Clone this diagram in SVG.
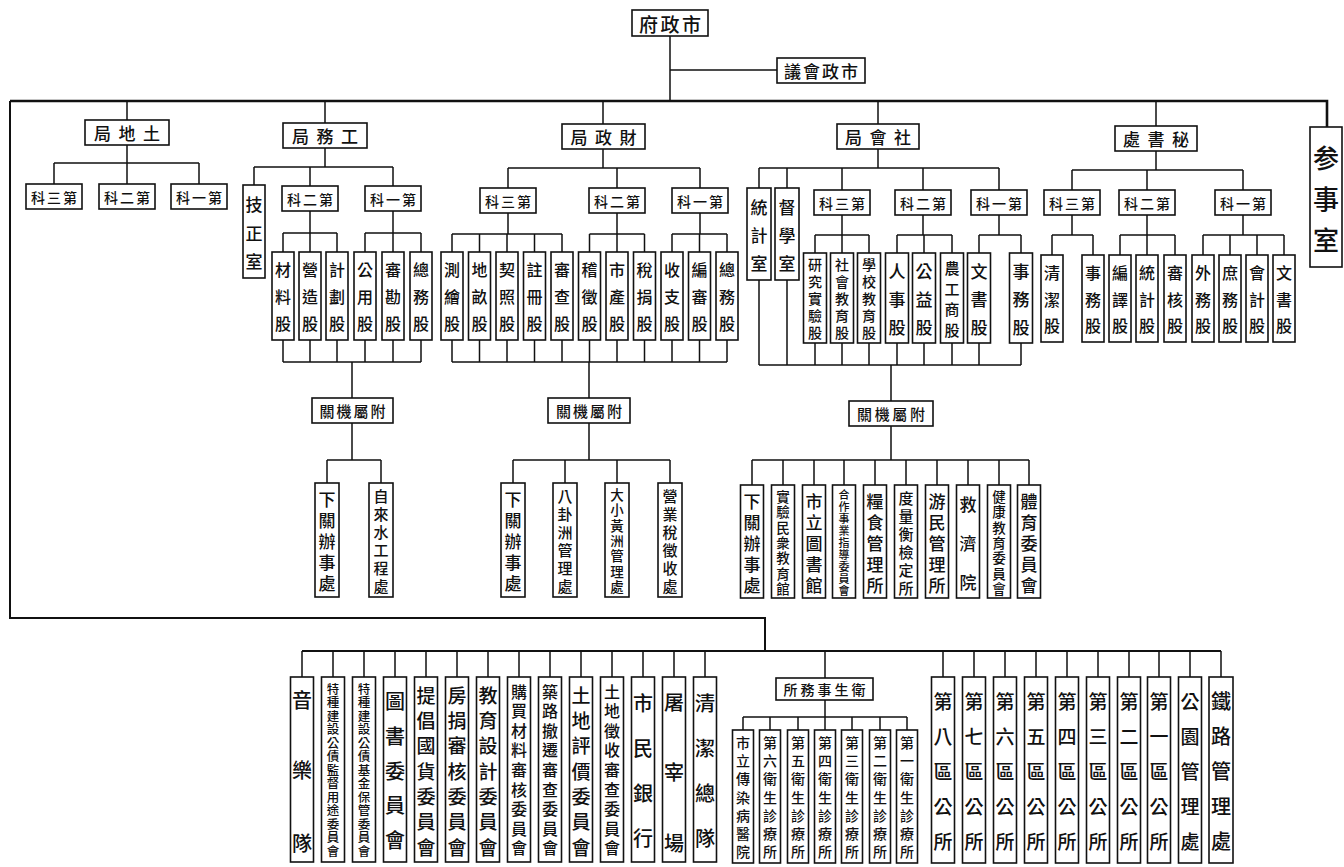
<svg xmlns="http://www.w3.org/2000/svg" width="1344" height="867" viewBox="0 0 1344 867">
<style>
.b{fill:#fff;stroke:#111;stroke-width:1.6}
.c{fill:none;stroke:#111;stroke-width:1.5}
.m{stroke-width:2.6}
.w2{stroke-width:2}
text{font-family:"Noto Sans CJK TC","Noto Sans CJK SC",sans-serif;fill:#111;text-anchor:middle;dominant-baseline:central;font-weight:500}
.f11{font-size:11px}.f12{font-size:12.5px}.f13{font-size:13.5px}.f14{font-size:14px}.f15{font-size:15px}.f16{font-size:16px}.f17{font-size:17px}.f19{font-size:19px}.f20{font-size:20px}.f26{font-size:26px}
</style>
<rect x="0" y="0" width="1344" height="867" fill="#fff"/>
<g id="connectors">
<path class="c m" d="M10 101 H1327 V127"/>
<path class="c w2" d="M10 101 V618 H765 V651 M302 651 H1221"/>
<path class="c" d="M670 36 V101 M670 70 H777 M127 101 V120 M325 101 V123 M603 101 V124 M878 101 V124 M1156 101 V126"/>
<path class="c" d="M127 145 V163 M54 163 H199 M54 163 V184 M127 163 V184 M199 163 V184"/>
<path class="c" d="M325 148 V167 M254 167 H393 M254 167 V185 M310 167 V186 M393 167 V186
M310 211 V233 M283 233 H337 M283 233 V252 M310 233 V252 M337 233 V252
M393 211 V233 M365 233 H421 M365 233 V252 M393 233 V252 M421 233 V252
M283 340 V362 M310 340 V362 M337 340 V362 M365 340 V362 M393 340 V362 M421 340 V362 M283 362 H421 M352 362 V398
M352 423 V460 M327 460 H381 M327 460 V483 M381 460 V483"/>
<path class="c" d="M603 149 V168 M508 168 H700 M508 168 V188 M617 168 V188 M700 168 V188
M508 213 V234 M452 234 H562 M452 234 V252 M479.5 234 V252 M507 234 V252 M534.5 234 V252 M562 234 V252
M617 213 V234 M589.5 234 H644.5 M589.5 234 V252 M617 234 V252 M644.5 234 V252
M700 213 V234 M672 234 H727 M672 234 V252 M699.5 234 V252 M727 234 V252
M452 340 V362 M479.5 340 V362 M507 340 V362 M534.5 340 V362 M562 340 V362 M589.5 340 V362 M617 340 V362 M644.5 340 V362 M672 340 V362 M699.5 340 V362 M727 340 V362 M452 362 H727 M589 362 V398
M589 423 V460 M513 460 H670 M513 460 V483 M565 460 V483 M617 460 V483 M670 460 V483"/>
<path class="c" d="M878 149 V168 M759 168 H999 M759 168 V188 M787 168 V188 M842 168 V190 M923 168 V190 M999 168 V190
M842 215 V235 M815 235 H869 M815 235 V253 M842 235 V253 M869 235 V253
M923 215 V235 M897 235 H952 M897 235 V253 M924 235 V253 M952 235 V253
M999 215 V235 M979 235 H1021 M979 235 V253 M1021 235 V253
M759 280 V365 M787 280 V365 M815 343 V365 M842 343 V365 M869 343 V365 M897 343 V365 M924 343 V365 M952 343 V365 M979 343 V365 M1021 343 V365 M759 365 H1021 M891 365 V401
M891 426 V460 M752 460 H1029 M752 460 V485 M783 460 V485 M814 460 V485 M844 460 V485 M875 460 V485 M906 460 V485 M937 460 V485 M968 460 V485 M999 460 V485 M1029 460 V485"/>
<path class="c" d="M1156 151 V170 M1072 170 H1243 M1072 170 V190 M1147 170 V190 M1243 170 V190
M1072 215 V235 M1052 235 H1093 M1052 235 V255 M1093 235 V255
M1147 215 V235 M1120 235 H1175 M1120 235 V255 M1147 235 V255 M1175 235 V255
M1243 215 V235 M1203 235 H1284 M1203 235 V255 M1230 235 V255 M1257 235 V255 M1284 235 V255"/>
<path class="c" d="M302 651 V677 M333 651 V677 M364 651 V677 M395 651 V677 M426 651 V677 M457 651 V677 M488 651 V677 M519 651 V677 M550 651 V677 M581 651 V677 M612 651 V677 M643 651 V677 M674 651 V677 M705 651 V677 M825 651 V678
M943 651 V677 M974 651 V677 M1005 651 V677 M1036 651 V677 M1067 651 V677 M1098 651 V677 M1129 651 V677 M1159 651 V677 M1190 651 V677 M1221 651 V677
M825 700 V717 M743 717 H907 M743 717 V730 M770 717 V730 M798 717 V730 M825 717 V730 M852 717 V730 M880 717 V730 M907 717 V730"/>
</g>

<g id="n-shizhengfu"><rect class="b" x="632" y="10" width="76" height="26"/><text class="f19" x="670" y="23" textLength="62" lengthAdjust="spacing">府政市</text></g>
<g id="n-council"><rect class="b" x="777" y="58" width="88" height="25"/><text class="f17" x="821" y="70.5" textLength="74" lengthAdjust="spacing">議會政市</text></g>

<g id="n-land"><rect class="b" x="85" y="120" width="84" height="25"/><text class="f17" x="127" y="132.5" textLength="66" lengthAdjust="spacing">局地土</text></g>
<g id="n-works"><rect class="b" x="283" y="123" width="84" height="25"/><text class="f17" x="325" y="135.5" textLength="66" lengthAdjust="spacing">局務工</text></g>
<g id="n-finance"><rect class="b" x="562" y="124" width="83" height="25"/><text class="f17" x="603.5" y="136.5" textLength="66" lengthAdjust="spacing">局政財</text></g>
<g id="n-social"><rect class="b" x="837" y="124" width="82" height="25"/><text class="f17" x="878" y="136.5" textLength="66" lengthAdjust="spacing">局會社</text></g>
<g id="n-secretariat"><rect class="b" x="1115" y="126" width="82" height="25"/><text class="f17" x="1156" y="138.5" textLength="66" lengthAdjust="spacing">處書秘</text></g>
<g id="n-counsellor"><rect class="b" x="1310" y="127" width="32" height="140"/><text class="f26" x="1326 1326 1326" y="156 197 238">参事室</text></g>

<g id="n-land-s3"><rect class="b" x="26" y="184" width="56" height="25"/><text class="f14" x="54" y="196.5" textLength="46" lengthAdjust="spacing">科三第</text></g>
<g id="n-land-s2"><rect class="b" x="99" y="184" width="56" height="25"/><text class="f14" x="127" y="196.5" textLength="46" lengthAdjust="spacing">科二第</text></g>
<g id="n-land-s1"><rect class="b" x="171" y="184" width="56" height="25"/><text class="f14" x="199" y="196.5" textLength="46" lengthAdjust="spacing">科一第</text></g>

<g id="n-works-jz"><rect class="b" x="243" y="185" width="22" height="93"/><text class="f17" x="254 254 254" y="203 232 260">技正室</text></g>
<g id="n-works-s2"><rect class="b" x="282" y="186" width="56" height="25"/><text class="f14" x="310" y="198.5" textLength="46" lengthAdjust="spacing">科二第</text></g>
<g id="n-works-s1"><rect class="b" x="365" y="186" width="56" height="25"/><text class="f14" x="393" y="198.5" textLength="46" lengthAdjust="spacing">科一第</text></g>

<g id="n-fin-s3"><rect class="b" x="480" y="188" width="56" height="25"/><text class="f14" x="508" y="200.5" textLength="46" lengthAdjust="spacing">科三第</text></g>
<g id="n-fin-s2"><rect class="b" x="589" y="188" width="56" height="25"/><text class="f14" x="617" y="200.5" textLength="46" lengthAdjust="spacing">科二第</text></g>
<g id="n-fin-s1"><rect class="b" x="672" y="188" width="56" height="25"/><text class="f14" x="700" y="200.5" textLength="46" lengthAdjust="spacing">科一第</text></g>

<g id="n-soc-tj"><rect class="b" x="747" y="188" width="24" height="92"/><text class="f17" x="759 759 759" y="206 234 262">統計室</text></g>
<g id="n-soc-dx"><rect class="b" x="775" y="188" width="24" height="92"/><text class="f17" x="787 787 787" y="206 234 262">督學室</text></g>
<g id="n-soc-s3"><rect class="b" x="814" y="190" width="56" height="25"/><text class="f14" x="842" y="202.5" textLength="46" lengthAdjust="spacing">科三第</text></g>
<g id="n-soc-s2"><rect class="b" x="895" y="190" width="56" height="25"/><text class="f14" x="923" y="202.5" textLength="46" lengthAdjust="spacing">科二第</text></g>
<g id="n-soc-s1"><rect class="b" x="971" y="190" width="56" height="25"/><text class="f14" x="999" y="202.5" textLength="46" lengthAdjust="spacing">科一第</text></g>

<g id="n-sec-s3"><rect class="b" x="1044" y="190" width="56" height="25"/><text class="f14" x="1072" y="202.5" textLength="46" lengthAdjust="spacing">科三第</text></g>
<g id="n-sec-s2"><rect class="b" x="1119" y="190" width="56" height="25"/><text class="f14" x="1147" y="202.5" textLength="46" lengthAdjust="spacing">科二第</text></g>
<g id="n-sec-s1"><rect class="b" x="1215" y="190" width="56" height="25"/><text class="f14" x="1243" y="202.5" textLength="46" lengthAdjust="spacing">科一第</text></g>

<!-- works sections -->
<g id="n-w-cl" transform="translate(283,252)"><rect class="b" x="-11" width="22" height="88"/><text class="f16" x="0 0 0" y="17 44 71">材料股</text></g>
<g id="n-w-yz" transform="translate(310,252)"><rect class="b" x="-11" width="22" height="88"/><text class="f16" x="0 0 0" y="17 44 71">營造股</text></g>
<g id="n-w-jh" transform="translate(337,252)"><rect class="b" x="-11" width="22" height="88"/><text class="f16" x="0 0 0" y="17 44 71">計劃股</text></g>
<g id="n-w-gy" transform="translate(365,252)"><rect class="b" x="-11" width="22" height="88"/><text class="f16" x="0 0 0" y="17 44 71">公用股</text></g>
<g id="n-w-sk" transform="translate(393,252)"><rect class="b" x="-11" width="22" height="88"/><text class="f16" x="0 0 0" y="17 44 71">審勘股</text></g>
<g id="n-w-zw" transform="translate(421,252)"><rect class="b" x="-11" width="22" height="88"/><text class="f16" x="0 0 0" y="17 44 71">總務股</text></g>

<!-- finance sections -->
<g id="n-f-ch" transform="translate(452,252)"><rect class="b" x="-11" width="22" height="88"/><text class="f16" x="0 0 0" y="17 44 71">測繪股</text></g>
<g id="n-f-dm" transform="translate(479.5,252)"><rect class="b" x="-11" width="22" height="88"/><text class="f16" x="0 0 0" y="17 44 71">地畝股</text></g>
<g id="n-f-qz" transform="translate(507,252)"><rect class="b" x="-11" width="22" height="88"/><text class="f16" x="0 0 0" y="17 44 71">契照股</text></g>
<g id="n-f-zc" transform="translate(534.5,252)"><rect class="b" x="-11" width="22" height="88"/><text class="f16" x="0 0 0" y="17 44 71">註冊股</text></g>
<g id="n-f-sc" transform="translate(562,252)"><rect class="b" x="-11" width="22" height="88"/><text class="f16" x="0 0 0" y="17 44 71">審查股</text></g>
<g id="n-f-jz" transform="translate(589.5,252)"><rect class="b" x="-11" width="22" height="88"/><text class="f16" x="0 0 0" y="17 44 71">稽徵股</text></g>
<g id="n-f-sp" transform="translate(617,252)"><rect class="b" x="-11" width="22" height="88"/><text class="f16" x="0 0 0" y="17 44 71">市產股</text></g>
<g id="n-f-sj" transform="translate(644.5,252)"><rect class="b" x="-11" width="22" height="88"/><text class="f16" x="0 0 0" y="17 44 71">稅捐股</text></g>
<g id="n-f-sz" transform="translate(672,252)"><rect class="b" x="-11" width="22" height="88"/><text class="f16" x="0 0 0" y="17 44 71">收支股</text></g>
<g id="n-f-bs" transform="translate(699.5,252)"><rect class="b" x="-11" width="22" height="88"/><text class="f16" x="0 0 0" y="17 44 71">編審股</text></g>
<g id="n-f-zw" transform="translate(727,252)"><rect class="b" x="-11" width="22" height="88"/><text class="f16" x="0 0 0" y="17 44 71">總務股</text></g>

<!-- social sections -->
<g id="n-s-yj" transform="translate(815,253)"><rect class="b" x="-11.5" width="23" height="90"/><text class="f14" x="0 0 0 0 0" y="11 28 45 62 79">研究實驗股</text></g>
<g id="n-s-sh" transform="translate(842,253)"><rect class="b" x="-11.5" width="23" height="90"/><text class="f14" x="0 0 0 0 0" y="11 28 45 62 79">社會教育股</text></g>
<g id="n-s-xx" transform="translate(869,253)"><rect class="b" x="-11.5" width="23" height="90"/><text class="f14" x="0 0 0 0 0" y="11 28 45 62 79">學校教育股</text></g>
<g id="n-s-rs" transform="translate(897,253)"><rect class="b" x="-11.5" width="23" height="90"/><text class="f17" x="0 0 0" y="17 45 73">人事股</text></g>
<g id="n-s-gy" transform="translate(924,253)"><rect class="b" x="-11.5" width="23" height="90"/><text class="f17" x="0 0 0" y="17 45 73">公益股</text></g>
<g id="n-s-ngs" transform="translate(952,253)"><rect class="b" x="-11.5" width="23" height="90"/><text class="f15" x="0 0 0 0" y="14 35 55 76">農工商股</text></g>
<g id="n-s-ws" transform="translate(979,253)"><rect class="b" x="-11.5" width="23" height="90"/><text class="f17" x="0 0 0" y="17 45 73">文書股</text></g>
<g id="n-s-sw" transform="translate(1021,253)"><rect class="b" x="-11.5" width="23" height="90"/><text class="f17" x="0 0 0" y="17 45 73">事務股</text></g>

<!-- secretariat sections -->
<g id="n-c-qj" transform="translate(1052,255)"><rect class="b" x="-11" width="22" height="87"/><text class="f16" x="0 0 0" y="17 44 70">清潔股</text></g>
<g id="n-c-sw" transform="translate(1093,255)"><rect class="b" x="-11" width="22" height="87"/><text class="f16" x="0 0 0" y="17 44 70">事務股</text></g>
<g id="n-c-by" transform="translate(1120,255)"><rect class="b" x="-11" width="22" height="87"/><text class="f16" x="0 0 0" y="17 44 70">編譯股</text></g>
<g id="n-c-tj" transform="translate(1147,255)"><rect class="b" x="-11" width="22" height="87"/><text class="f16" x="0 0 0" y="17 44 70">統計股</text></g>
<g id="n-c-sh" transform="translate(1175,255)"><rect class="b" x="-11" width="22" height="87"/><text class="f16" x="0 0 0" y="17 44 70">審核股</text></g>
<g id="n-c-ww" transform="translate(1203,255)"><rect class="b" x="-11" width="22" height="87"/><text class="f16" x="0 0 0" y="17 44 70">外務股</text></g>
<g id="n-c-shw" transform="translate(1230,255)"><rect class="b" x="-11" width="22" height="87"/><text class="f16" x="0 0 0" y="17 44 70">庶務股</text></g>
<g id="n-c-kj" transform="translate(1257,255)"><rect class="b" x="-11" width="22" height="87"/><text class="f16" x="0 0 0" y="17 44 70">會計股</text></g>
<g id="n-c-ws" transform="translate(1284,255)"><rect class="b" x="-11" width="22" height="87"/><text class="f16" x="0 0 0" y="17 44 70">文書股</text></g>

<!-- affiliated headers -->
<g id="n-w-aff"><rect class="b" x="312" y="398" width="81" height="25"/><text class="f15" x="352.5" y="410.5" textLength="66" lengthAdjust="spacing">關機屬附</text></g>
<g id="n-f-aff"><rect class="b" x="548" y="398" width="82" height="25"/><text class="f15" x="589" y="410.5" textLength="66" lengthAdjust="spacing">關機屬附</text></g>
<g id="n-s-aff"><rect class="b" x="849" y="401" width="84" height="25"/><text class="f15" x="891" y="413.5" textLength="68" lengthAdjust="spacing">關機屬附</text></g>

<!-- works affiliated -->
<g id="n-wa-xg" transform="translate(327,483)"><rect class="b" x="-12" width="24" height="114"/><text class="f17" x="0 0 0 0 0" y="15 36 57 78 99">下關辦事處</text></g>
<g id="n-wa-zls" transform="translate(381,483)"><rect class="b" x="-12" width="24" height="114"/><text class="f15" x="0 0 0 0 0 0" y="12 30 48 66 84 102">自來水工程處</text></g>
<!-- finance affiliated -->
<g id="n-fa-xg" transform="translate(513,483)"><rect class="b" x="-12" width="24" height="114"/><text class="f17" x="0 0 0 0 0" y="15 36 57 78 99">下關辦事處</text></g>
<g id="n-fa-bgz" transform="translate(565,483)"><rect class="b" x="-12" width="24" height="114"/><text class="f15" x="0 0 0 0 0 0" y="12 30 48 66 84 102">八卦洲管理處</text></g>
<g id="n-fa-dxh" transform="translate(617,483)"><rect class="b" x="-12" width="24" height="114"/><text class="f13" x="0 0 0 0 0 0 0" y="11 26 42 57 72 88 103">大小黃洲管理處</text></g>
<g id="n-fa-yys" transform="translate(670,483)"><rect class="b" x="-12" width="24" height="114"/><text class="f15" x="0 0 0 0 0 0" y="12 30 48 66 84 102">營業稅徵收處</text></g>
<!-- social affiliated -->
<g id="n-sa-xg" transform="translate(752,485)"><rect class="b" x="-11.5" width="23" height="113"/><text class="f17" x="0 0 0 0 0" y="15 36 57 78 99">下關辦事處</text></g>
<g id="n-sa-sy" transform="translate(783,485)"><rect class="b" x="-11.5" width="23" height="113"/><text class="f13" x="0 0 0 0 0 0 0" y="11 26 42 57 72 88 103">實驗民衆教育館</text></g>
<g id="n-sa-tsg" transform="translate(814,485)"><rect class="b" x="-11.5" width="23" height="113"/><text class="f17" x="0 0 0 0 0" y="15 36 57 78 99">市立圖書館</text></g>
<g id="n-sa-hz" transform="translate(844,485)"><rect class="b" x="-11.5" width="23" height="113"/><text class="f11" x="0 0 0 0 0 0 0 0 0" y="9 21 33 45 57 69 81 93 105">合作事業指導委員會</text></g>
<g id="n-sa-ls" transform="translate(875,485)"><rect class="b" x="-11.5" width="23" height="113"/><text class="f17" x="0 0 0 0 0" y="15 36 57 78 99">糧食管理所</text></g>
<g id="n-sa-dlh" transform="translate(906,485)"><rect class="b" x="-11.5" width="23" height="113"/><text class="f15" x="0 0 0 0 0 0" y="12 30 48 66 84 102">度量衡檢定所</text></g>
<g id="n-sa-ym" transform="translate(937,485)"><rect class="b" x="-11.5" width="23" height="113"/><text class="f17" x="0 0 0 0 0" y="15 36 57 78 99">游民管理所</text></g>
<g id="n-sa-jj" transform="translate(968,485)"><rect class="b" x="-11.5" width="23" height="113"/><text class="f17" x="0 0 0" y="18 57 96">救濟院</text></g>
<g id="n-sa-jk" transform="translate(999,485)"><rect class="b" x="-11.5" width="23" height="113"/><text class="f13" x="0 0 0 0 0 0 0" y="11 26 42 57 72 88 103">健康教育委員會</text></g>
<g id="n-sa-ty" transform="translate(1029,485)"><rect class="b" x="-11.5" width="23" height="113"/><text class="f17" x="0 0 0 0 0" y="15 36 57 78 99">體育委員會</text></g>

<!-- bottom row -->
<g id="n-b-yyd" transform="translate(302,677)"><rect class="b" x="-11.5" width="23" height="185"/><text class="f20" x="0 0 0" y="22 92 165">音樂隊</text></g>
<g id="n-b-tz1" transform="translate(333,677)"><rect class="b" x="-11.5" width="23" height="185"/><text class="f12" x="0 0 0 0 0 0 0 0 0 0 0 0 0" y="11 24.5 38 51.5 65 78.5 92 105.5 119 132.5 146 159.5 173">特種建設公債監督用途委員會</text></g>
<g id="n-b-tz2" transform="translate(364,677)"><rect class="b" x="-11.5" width="23" height="185"/><text class="f12" x="0 0 0 0 0 0 0 0 0 0 0 0 0" y="11 24.5 38 51.5 65 78.5 92 105.5 119 132.5 146 159.5 173">特種建設公債基金保管委員會</text></g>
<g id="n-b-ts" transform="translate(395,677)"><rect class="b" x="-11.5" width="23" height="185"/><text class="f20" x="0 0 0 0 0" y="23 58 93 127 162">圖書委員會</text></g>
<g id="n-b-tc" transform="translate(426,677)"><rect class="b" x="-11.5" width="23" height="185"/><text class="f19" x="0 0 0 0 0 0 0" y="17 42 67 93 118 143 169">提倡國貨委員會</text></g>
<g id="n-b-fj" transform="translate(457,677)"><rect class="b" x="-11.5" width="23" height="185"/><text class="f19" x="0 0 0 0 0 0 0" y="17 42 67 93 118 143 169">房捐審核委員會</text></g>
<g id="n-b-jy" transform="translate(488,677)"><rect class="b" x="-11.5" width="23" height="185"/><text class="f19" x="0 0 0 0 0 0 0" y="17 42 67 93 118 143 169">教育設計委員會</text></g>
<g id="n-b-gm" transform="translate(519,677)"><rect class="b" x="-11.5" width="23" height="185"/><text class="f16" x="0 0 0 0 0 0 0 0 0" y="14 33 53 72 92 112 131 151 170">購買材料審核委員會</text></g>
<g id="n-b-zl" transform="translate(550,677)"><rect class="b" x="-11.5" width="23" height="185"/><text class="f16" x="0 0 0 0 0 0 0 0 0" y="14 33 53 72 92 112 131 151 170">築路撤遷審查委員會</text></g>
<g id="n-b-tdpj" transform="translate(581,677)"><rect class="b" x="-11.5" width="23" height="185"/><text class="f19" x="0 0 0 0 0 0 0" y="17 42 67 93 118 143 169">土地評價委員會</text></g>
<g id="n-b-tdzs" transform="translate(612,677)"><rect class="b" x="-11.5" width="23" height="185"/><text class="f16" x="0 0 0 0 0 0 0 0 0" y="14 33 53 72 92 112 131 151 170">土地徵收審查委員會</text></g>
<g id="n-b-smyh" transform="translate(643,677)"><rect class="b" x="-11.5" width="23" height="185"/><text class="f20" x="0 0 0 0" y="25 70 115 160">市民銀行</text></g>
<g id="n-b-tzc" transform="translate(674,677)"><rect class="b" x="-11.5" width="23" height="185"/><text class="f20" x="0 0 0" y="24 94 165">屠宰場</text></g>
<g id="n-b-qj" transform="translate(705,677)"><rect class="b" x="-11.5" width="23" height="185"/><text class="f20" x="0 0 0 0" y="25 70 115 160">清潔總隊</text></g>

<g id="n-health"><rect class="b" x="776" y="678" width="97" height="22"/><text class="f14" x="824.5" y="689" textLength="82" lengthAdjust="spacing">所務事生衛</text></g>
<g id="n-h-crb" transform="translate(743,730)"><rect class="b" x="-10.5" width="21" height="133"/><text class="f14" x="0 0 0 0 0 0 0" y="12 30 48 67 85 103 121">市立傳染病醫院</text></g>
<g id="n-h-6" transform="translate(770,730)"><rect class="b" x="-10.5" width="21" height="133"/><text class="f14" x="0 0 0 0 0 0 0" y="12 30 48 67 85 103 121">第六衛生診療所</text></g>
<g id="n-h-5" transform="translate(798,730)"><rect class="b" x="-10.5" width="21" height="133"/><text class="f14" x="0 0 0 0 0 0 0" y="12 30 48 67 85 103 121">第五衛生診療所</text></g>
<g id="n-h-4" transform="translate(825,730)"><rect class="b" x="-10.5" width="21" height="133"/><text class="f14" x="0 0 0 0 0 0 0" y="12 30 48 67 85 103 121">第四衛生診療所</text></g>
<g id="n-h-3" transform="translate(852,730)"><rect class="b" x="-10.5" width="21" height="133"/><text class="f14" x="0 0 0 0 0 0 0" y="12 30 48 67 85 103 121">第三衛生診療所</text></g>
<g id="n-h-2" transform="translate(880,730)"><rect class="b" x="-10.5" width="21" height="133"/><text class="f14" x="0 0 0 0 0 0 0" y="12 30 48 67 85 103 121">第二衛生診療所</text></g>
<g id="n-h-1" transform="translate(907,730)"><rect class="b" x="-10.5" width="21" height="133"/><text class="f14" x="0 0 0 0 0 0 0" y="12 30 48 67 85 103 121">第一衛生診療所</text></g>

<g id="n-d-8" transform="translate(943,677)"><rect class="b" x="-11.5" width="23" height="186"/><text class="f19" x="0 0 0 0 0" y="23 58 93 128 163">第八區公所</text></g>
<g id="n-d-7" transform="translate(974,677)"><rect class="b" x="-11.5" width="23" height="186"/><text class="f19" x="0 0 0 0 0" y="23 58 93 128 163">第七區公所</text></g>
<g id="n-d-6" transform="translate(1005,677)"><rect class="b" x="-11.5" width="23" height="186"/><text class="f19" x="0 0 0 0 0" y="23 58 93 128 163">第六區公所</text></g>
<g id="n-d-5" transform="translate(1036,677)"><rect class="b" x="-11.5" width="23" height="186"/><text class="f19" x="0 0 0 0 0" y="23 58 93 128 163">第五區公所</text></g>
<g id="n-d-4" transform="translate(1067,677)"><rect class="b" x="-11.5" width="23" height="186"/><text class="f19" x="0 0 0 0 0" y="23 58 93 128 163">第四區公所</text></g>
<g id="n-d-3" transform="translate(1098,677)"><rect class="b" x="-11.5" width="23" height="186"/><text class="f19" x="0 0 0 0 0" y="23 58 93 128 163">第三區公所</text></g>
<g id="n-d-2" transform="translate(1129,677)"><rect class="b" x="-11.5" width="23" height="186"/><text class="f19" x="0 0 0 0 0" y="23 58 93 128 163">第二區公所</text></g>
<g id="n-d-1" transform="translate(1159,677)"><rect class="b" x="-11.5" width="23" height="186"/><text class="f19" x="0 0 0 0 0" y="23 58 93 128 163">第一區公所</text></g>
<g id="n-park" transform="translate(1190,677)"><rect class="b" x="-11.5" width="23" height="186"/><text class="f19" x="0 0 0 0 0" y="23 58 93 128 163">公園管理處</text></g>
<g id="n-rail" transform="translate(1221,677)"><rect class="b" x="-12" width="24" height="186"/><text class="f20" x="0 0 0 0 0" y="23 58 93 128 163">鐵路管理處</text></g>
</svg>
